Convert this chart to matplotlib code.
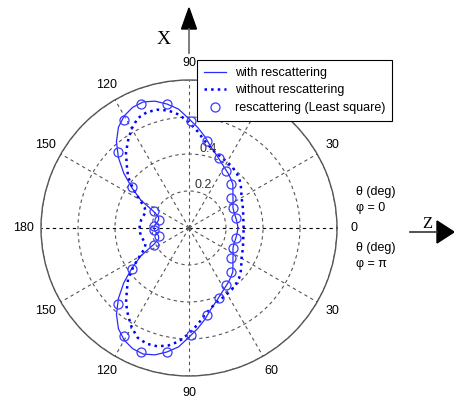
import numpy as np
import matplotlib
matplotlib.use("Agg")
import matplotlib.pyplot as plt
from matplotlib.patches import Polygon
from matplotlib.lines import Line2D

plt.rcParams['font.family'] = ['Liberation Sans', 'DejaVu Sans']
plt.rcParams['font.size'] = 9

# theta in degrees (upper half, phi = 0); lower half (phi = pi) is the mirror image
theta = list(range(0, 181, 5))
r_with = [0.265, 0.262, 0.26, 0.258, 0.258, 0.262, 0.275, 0.29, 0.31, 0.335,
          0.35, 0.365, 0.38, 0.40, 0.425, 0.455, 0.50, 0.545, 0.59, 0.645,
          0.68, 0.71, 0.725, 0.72, 0.70, 0.665, 0.61, 0.54, 0.46, 0.375,
          0.30, 0.21, 0.175, 0.17, 0.175, 0.185, 0.19]
r_without = [0.295, 0.296, 0.298, 0.303, 0.31, 0.318, 0.328, 0.345, 0.365, 0.383,
             0.395, 0.405, 0.412, 0.42, 0.43, 0.45, 0.48, 0.525, 0.57, 0.615,
             0.645, 0.662, 0.666, 0.655, 0.62, 0.575, 0.53, 0.475, 0.43, 0.368,
             0.31, 0.265, 0.25, 0.255, 0.262, 0.266, 0.267]

theta_ls = [12, 24, 35, 46, 57, 67, 78, 89, 100, 111, 121, 133, 144, 154, 165, 176]
r_ls = [0.26, 0.26, 0.28, 0.33, 0.37, 0.41, 0.48, 0.58, 0.68, 0.72, 0.68, 0.56, 0.38, 0.21, 0.17, 0.19]

rticks = [0.2, 0.4, 0.6, 0.8]
rtick_labels = ['0.2', '0.4', '', '']
ang_ticks = list(range(0, 360, 30))
ang_labels = ['0', '30', '60', '90', '120', '150', '180', '150', '120', '90', '60', '30']

W, H = 454, 401


def px(x, y):
    return (x / W, 1 - y / H)


def mirror(t, r):
    t = np.asarray(t, float)
    r = np.asarray(r, float)
    return np.deg2rad(np.concatenate([t, 360 - t[::-1]])), np.concatenate([r, r[::-1]])


fig = plt.figure(figsize=(W / 100, H / 100), dpi=100)
ax = fig.add_axes([41 / W, 25 / H, 296 / W, 296 / H], projection='polar')

tw, rw = mirror(theta, r_with)
to, ro = mirror(theta, r_without)
tl, rl = mirror(theta_ls, r_ls)

ax.plot(tw, rw, '-', color='#2a2aff', lw=0.9, label='with rescattering', zorder=3)
ax.plot(to, ro, ':', color='#0000ff', lw=1.8, label='without rescattering', zorder=3)
ax.plot(tl, rl, 'o', mfc='none', mec='#3a3aff', ms=6.5, mew=0.9,
        label='rescattering (Least square)', zorder=4)

ax.set_ylim(0, 0.8)
ax.set_yticks(rticks)
ax.set_yticklabels([])
ax.set_thetagrids(ang_ticks, labels=ang_labels)
ax.tick_params(axis='x', pad=2, labelsize=9)
ax.grid(True, color='#555555', linestyle=(0, (3, 3)), linewidth=0.8)
for i in (0, 6):
    ax.xaxis.get_gridlines()[i].set_color('black')
ax.spines['polar'].set_color('#555555')
ax.spines['polar'].set_linewidth(1.0)

for r, lab in zip(rticks, rtick_labels):
    ax.text(np.deg2rad(82), r, lab, ha='left', va='bottom', fontsize=9, color='#333333')

leg = ax.legend(loc='upper left', bbox_to_anchor=px(197, 60), bbox_transform=fig.transFigure,
                fancybox=False, edgecolor='black', framealpha=1, borderaxespad=0,
                handlelength=1.8, handletextpad=0.7, fontsize=9, borderpad=0.55,
                labelspacing=0.45)
leg.get_frame().set_linewidth(0.8)
leg.set_zorder(10)

# axis arrows
fig.add_artist(Line2D([px(189, 29)[0], px(189, 53)[0]], [px(189, 29)[1], px(189, 53)[1]],
                      color='#666666', lw=1.2))
fig.add_artist(Polygon([px(181.5, 29), px(196.5, 29), px(189, 8)], closed=True,
                       color='black', transform=fig.transFigure))
fig.add_artist(Line2D([px(410, 232)[0], px(437, 232)[0]], [px(410, 232)[1], px(437, 232)[1]],
                      color='#333333', lw=1.2))
fig.add_artist(Polygon([px(437, 221), px(437, 243), px(454, 232)], closed=True,
                       color='black', transform=fig.transFigure))
fig.text(*px(164, 39), 'X', fontsize=14, family='Liberation Serif', ha='center', va='center')
fig.text(*px(427, 224), 'Z', fontsize=12, family='Liberation Serif', ha='center', va='center')

fig.text(*px(356, 192), 'θ (deg)', fontsize=9, ha='left', va='center')
fig.text(*px(356, 208), 'φ = 0', fontsize=9, ha='left', va='center')
fig.text(*px(356, 248), 'θ (deg)', fontsize=9, ha='left', va='center')
fig.text(*px(356, 264), 'φ = π', fontsize=9, ha='left', va='center')

fig.savefig('out.png', dpi=100)
